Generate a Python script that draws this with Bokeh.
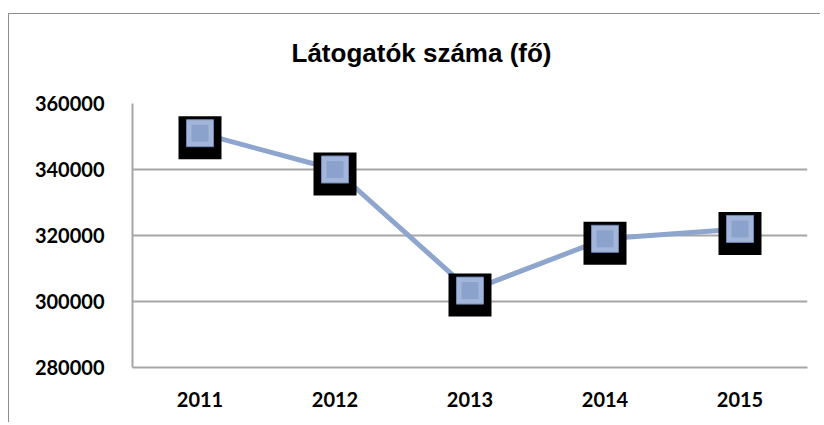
from bokeh.plotting import figure
from bokeh.models import FactorRange, Range1d, FixedTicker, NumeralTickFormatter
from bokeh.embed import file_html
from bokeh.resources import INLINE

years = ["2011", "2012", "2013", "2014", "2015"]
visitors = [351000, 340000, 303300, 319000, 322000]
y_ticks = [280000, 300000, 320000, 340000, 360000]
title_text = "Látogatók száma (fő)"

Y0, Y1 = 280000, 360000
W, H, TOP, BOT = 812, 422, 103, 55
p = figure(width=W, height=H, x_range=FactorRange(*years, range_padding=0),
           y_range=Range1d(Y0, Y1), output_backend="svg", toolbar_location=None,
           min_border_left=124, min_border_right=W - 799, min_border_top=TOP, min_border_bottom=BOT)
p.margin = (0, 0, 0, 8)
p.border_fill_color = None
p.background_fill_color = "#ffffff"
p.styles = {
    "background-color": "#ffffff",
    "background-image": "linear-gradient(#8c8c8c, #8c8c8c), linear-gradient(#8c8c8c, #8c8c8c)",
    "background-position": "0 13px, 0 13px",
    "background-size": "100% 1px, 1px 100%",
    "background-repeat": "no-repeat, no-repeat",
}

p.title.text = title_text
p.title.text_font = "Liberation Sans"
p.title.text_font_style = "bold"
p.title.text_font_size = "26px"
p.title.text_color = "#000000"
p.title.align = "left"
p.title.offset = 159
p.title.standoff = 71

p.outline_line_color = None
p.xgrid.grid_line_color = None
p.ygrid.grid_line_color = "#a6a6a6"
p.ygrid.grid_line_width = 2
p.yaxis.ticker = FixedTicker(ticks=y_ticks)
p.yaxis.formatter = NumeralTickFormatter(format="0")

for ax in (p.xaxis, p.yaxis):
    ax.axis_line_color = "#a6a6a6"
    ax.axis_line_width = 2
    ax.major_tick_line_color = None
    ax.minor_tick_line_color = None
    ax.major_label_text_font = "Lato"
    ax.major_label_text_font_style = "bold"
    ax.major_label_text_font_size = "20px"
    ax.major_label_text_color = "#000000"
p.yaxis.major_label_standoff = 22
p.xaxis.major_label_standoff = 18

p.line(years, visitors, line_color="#8ea5cd", line_width=5)

frame_h = H - TOP - BOT
dy = 4.5 * (Y1 - Y0) / frame_h
shadow_y = [v - dy for v in visitors]
p.scatter(years, shadow_y, marker="square", size=43, fill_color="#000000", line_color=None)
p.scatter(years, visitors, marker="square", size=27, fill_color="#a3b6da", line_color="#6f88b4", line_width=1)
p.scatter(years, visitors, marker="square", size=17, fill_color="#8ba2cc", line_color=None)

open("out.html", "w").write(file_html(p, INLINE))
